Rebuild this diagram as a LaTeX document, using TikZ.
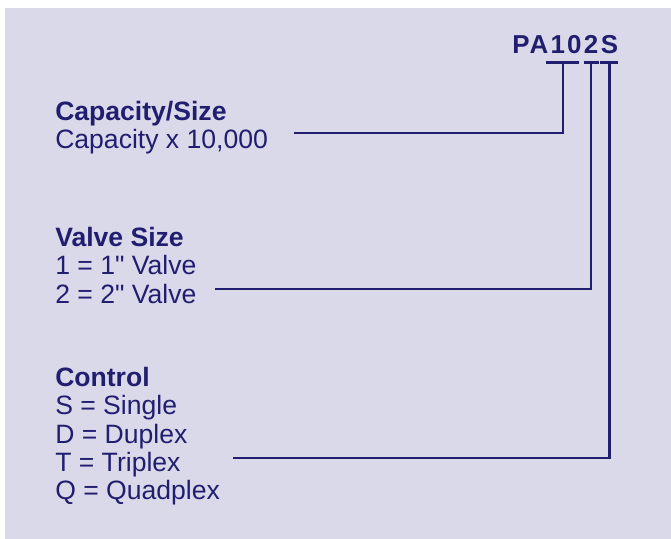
\documentclass[tikz,border=0pt]{standalone}
\usepackage{fontspec}
\setmainfont{Liberation Sans}
\usetikzlibrary{positioning}

\definecolor{panel}{RGB}{218,217,234}
\definecolor{navy}{RGB}{33,30,112}

\tikzset{
    info/.style={inner sep=0pt, align=left, text=navy,
        font=\fontsize{20}{21.4}\selectfont},
    codepart/.style={inner sep=0pt, text=navy,
        font=\fontsize{19.5}{21.4}\selectfont\bfseries\addfontfeature{LetterSpace=7.4}},
    wire/.style={navy, line width=2pt}
}

\begin{document}
\begin{tikzpicture}
    \useasboundingbox (0, 0) rectangle (17.754, -14.261);
    \fill[panel] (0.132, -0.212) rectangle (17.754, -14.261);

    % model code, split in its fields
    \node (prefix) [codepart, anchor=base west] at (13.547, -1.416) {PA};
    \node (capcode) [codepart, right=0.051 of prefix.base east, anchor=base west] {10};
    \node (valvecode) [codepart, right=0.051 of capcode.base east, anchor=base west] {2};
    \node (ctrlcode) [codepart, right=0.051 of valvecode.base east, anchor=base west] {S};

    % legend texts (base = last line)
    \node (capinfo) [info, anchor=base west] at (1.455, -3.942)
        {\textbf{Capacity/Size}\\Capacity x 10,000};
    \node (valveinfo) [info, anchor=base west] at (1.455, -8.017)
        {\textbf{Valve Size}\\1 = 1\textquotedbl{} Valve\\2 = 2\textquotedbl{} Valve};
    \node (ctrlinfo) [info, anchor=base west] at (1.455, -13.229)
        {\textbf{Control}\\S = Single\\D = Duplex\\T = Triplex\\Q = Quadplex};

    \coordinate (capend) at (7.787, -3.519);
    \coordinate (valveend) at (5.689, -7.646);
    \coordinate (ctrlend) at (6.157, -12.118);

    \draw[wire]
        ([xshift=-0.13cm, yshift=-0.238cm]capcode.base west) -- ([xshift=-0.08cm, yshift=-0.238cm]capcode.base east)
        ([yshift=-0.238cm]valvecode.base west) -- ([yshift=-0.238cm]valvecode.base east)
        ([yshift=-0.238cm]ctrlcode.base west) -- ([yshift=-0.238cm]ctrlcode.base east)

        ([xshift=-0.08cm, yshift=-0.238cm]capcode.base) |- (capend)
        ([yshift=-0.238cm]valvecode.base) |- (valveend)
        ([yshift=-0.238cm]ctrlcode.base) |- (ctrlend)
    ;
\end{tikzpicture}
\end{document}
